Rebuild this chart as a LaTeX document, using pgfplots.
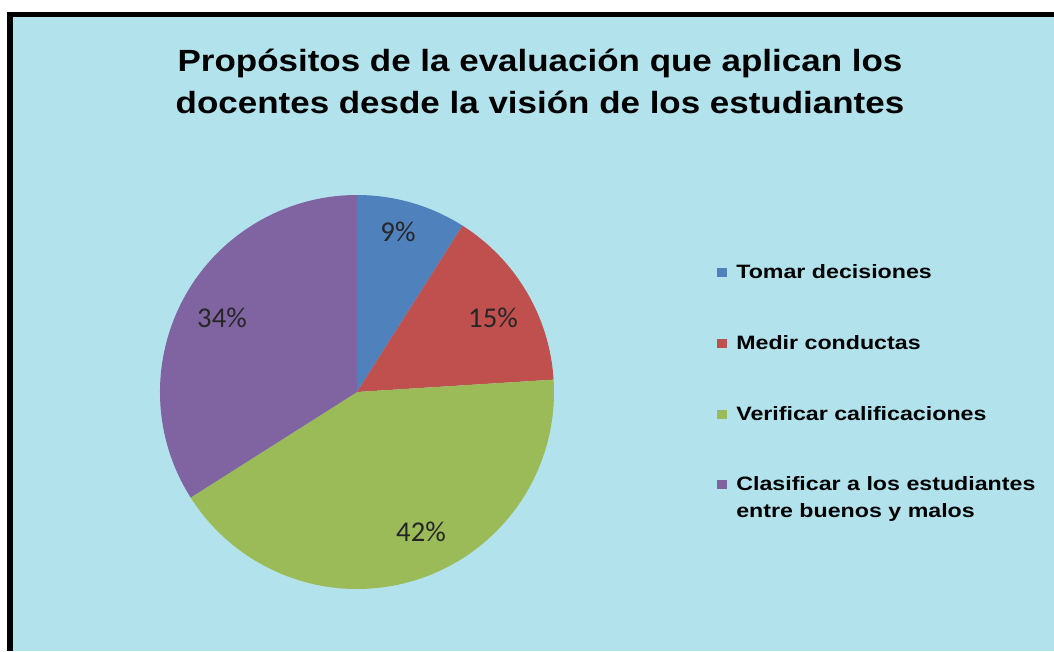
\documentclass[border=0pt]{standalone}
\usepackage{pgfplots}
\usepackage{pgfplotstable}
\pgfplotsset{compat=1.18}
\usepackage{fontspec}
\setmainfont{Liberation Sans}
\newfontfamily\calibri{Carlito}

\definecolor{sBlue}{HTML}{4F81BD}
\definecolor{sRed}{HTML}{C0504D}
\definecolor{sGreen}{HTML}{9BBB59}
\definecolor{sPurple}{HTML}{8064A2}
\definecolor{bgCyan}{RGB}{178,227,237}

\pgfplotstableread{
idx value
0 9
1 15
2 42
3 34
}\piedata

\pgfplotstablegetelem{0}{value}\of\piedata \let\va\pgfplotsretval
\pgfplotstablegetelem{1}{value}\of\piedata \let\vb\pgfplotsretval
\pgfplotstablegetelem{2}{value}\of\piedata \let\vc\pgfplotsretval
\pgfplotstablegetelem{3}{value}\of\piedata \let\vd\pgfplotsretval
\pgfmathsetmacro\aA{90}
\pgfmathsetmacro\aB{\aA-3.6*\va}
\pgfmathsetmacro\aC{\aB-3.6*\vb}
\pgfmathsetmacro\aD{\aC-3.6*\vc}
\pgfmathsetmacro\aE{\aD-3.6*\vd}
\def\R{147.75pt}

\begin{document}
\begin{tikzpicture}
\begin{axis}[
  scale only axis, width=790.5pt, height=488.25pt,
  xmin=0, xmax=1054, ymin=0, ymax=651, y dir=reverse,
  hide axis, clip=false]
% background and frame
\fill[white] (axis cs:0,0) rectangle (axis cs:1054,651);
\fill[bgCyan] (axis cs:10,14) rectangle (axis cs:1054,651);
\fill[black] (axis cs:7,12) rectangle (axis cs:1054,17);
\fill[black] (axis cs:7,12) rectangle (axis cs:13,651);
% title
\node[anchor=base, xscale=1.14, font=\bfseries\fontsize{23}{31.5}\selectfont]
  at (axis cs:540,71) {Propósitos de la evaluación que aplican los};
\node[anchor=base, xscale=1.14, font=\bfseries\fontsize{23}{31.5}\selectfont]
  at (axis cs:540,113) {docentes desde la visión de los estudiantes};
% pie slices
\fill[sBlue]   (axis cs:357,392) -- ++(\aA:\R) arc[start angle=\aA, end angle=\aB, radius=\R] -- cycle;
\fill[sRed]    (axis cs:357,392) -- ++(\aB:\R) arc[start angle=\aB, end angle=\aC, radius=\R] -- cycle;
\fill[sGreen]  (axis cs:357,392) -- ++(\aC:\R) arc[start angle=\aC, end angle=\aD, radius=\R] -- cycle;
\fill[sPurple] (axis cs:357,392) -- ++(\aD:\R) arc[start angle=\aD, end angle=\aE, radius=\R] -- cycle;
% data labels
\node[font=\calibri\fontsize{21.5}{24}\selectfont, text=black!85] at (axis cs:398,232) {9\%};
\node[font=\calibri\fontsize{21.5}{24}\selectfont, text=black!85] at (axis cs:493,318) {15\%};
\node[font=\calibri\fontsize{21.5}{24}\selectfont, text=black!85] at (axis cs:421,532) {42\%};
\node[font=\calibri\fontsize{21.5}{24}\selectfont, text=black!85] at (axis cs:222,318) {34\%};
% legend
\fill[sBlue]   (axis cs:717,268) rectangle (axis cs:727,277);
\fill[sRed]    (axis cs:717,339) rectangle (axis cs:727,348);
\fill[sGreen]  (axis cs:717,410) rectangle (axis cs:727,419);
\fill[sPurple] (axis cs:717,480) rectangle (axis cs:727,489);
\begin{scope}[every node/.style={anchor=base west, inner sep=0pt, xscale=1.2, font=\bfseries\fontsize{14.5}{17}\selectfont}]
\node at (axis cs:736,278) {Tomar decisiones};
\node at (axis cs:736,349) {Medir conductas};
\node at (axis cs:736,420) {Verificar calificaciones};
\node at (axis cs:736,490) {Clasificar a los estudiantes};
\node at (axis cs:736,517) {entre buenos y malos};
\end{scope}
\end{axis}
\end{tikzpicture}
\end{document}
